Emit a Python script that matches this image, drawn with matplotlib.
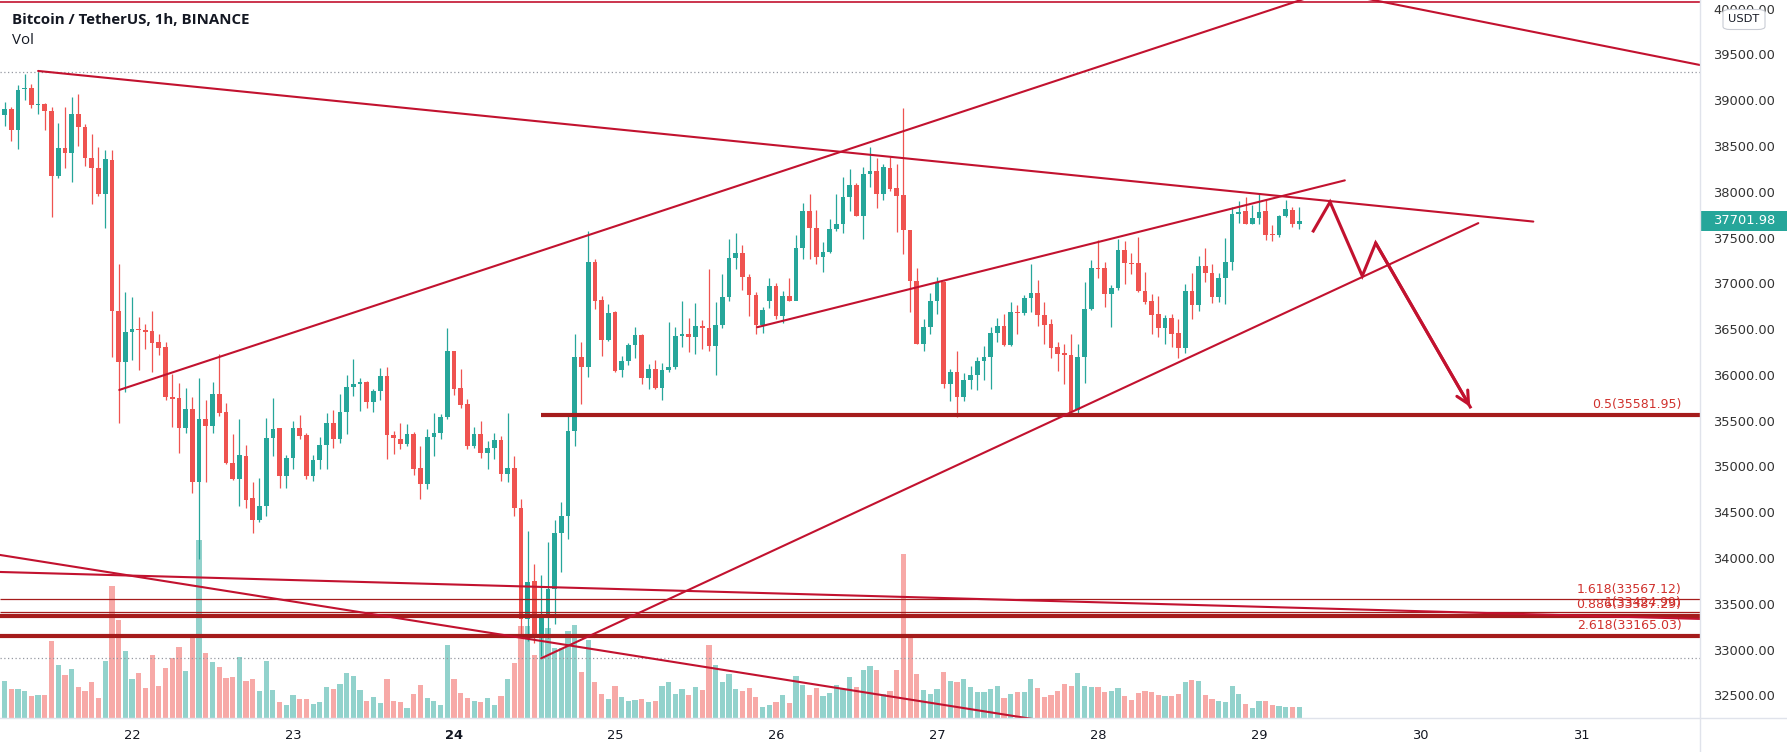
import matplotlib.pyplot as plt
import matplotlib.transforms as mtransforms
from matplotlib.patches import Rectangle, FancyBboxPatch
import numpy as np

# 1h candles, hour 0 = 22 Jan 00:00, first candle 21 Jan 04:00
first_hour = -20

opens = [
    38480, 38860, 38917, 38690, 39135, 39155, 38965, 38975, 38900, 38190, 38496, 38442, 38867, 38723, 38390, 38280, 37990, 38363, 36714, 36156,
    36480, 36516, 36510, 36498, 36372, 36318, 35778, 35760, 35436, 35641, 34849, 35530, 35455, 35807, 35616, 35049, 34883, 35135, 34667, 34437, 34581, 35326, 35434, 34912,
    35110, 35434, 35362, 34912, 35092, 35254, 35495, 35315, 35614, 35884, 35913, 35938, 35722, 35841, 36000, 35362, 35315, 35265, 35373, 35002, 34822, 35337, 35387, 35553,
    36274, 35877, 35697, 35236, 35373, 35164, 35218, 35308, 34930, 35002, 34559, 33345, 33767, 33165, 33399, 33680, 34292, 34473, 35409, 36216, 36101, 37245, 36838, 36395,
    36705, 36071, 36165, 36345, 36453, 35985, 36082, 35877, 36071, 36100, 36442, 36467, 36431, 36550, 36532, 36334, 36561, 36864, 37296, 37343, 37090, 36885, 36561, 36820,
    36983, 36658, 36874, 36828, 37404, 37811, 37620, 37307, 37361, 37613, 37667, 37955, 38089, 37757, 38208, 38244, 37991, 38280, 38053, 37981, 37595, 37037, 36353, 36540,
    36828, 37030, 35913, 36047, 35776, 35964, 36010, 36173, 36209, 36479, 36551, 36345, 36705, 36694, 36856, 36910, 36676, 36568, 36316, 36251, 36237, 35632, 36215, 36741,
    37188, 37181, 36900, 36964, 37379, 37242, 37235, 36936, 36820, 36684, 36525, 36640, 36478, 36309, 36936, 36784, 37209, 37127, 36864, 37073, 37245, 37775, 37811, 37667,
    37728, 37811, 37559, 37541, 37750, 37822, 37667,
]
highs = [
    38900, 39000, 38946, 39180, 39300, 39190, 39325, 38990, 38946, 38766, 38946, 39047, 39080, 38760, 38650, 38507, 38478, 38478, 37225, 36923,
    36865, 36650, 36577, 36714, 36462, 36372, 36023, 35929, 35868, 35778, 35987, 35742, 35940, 36246, 35706, 35373, 35531, 35254, 34847, 34894, 35542, 35769, 35440, 35146,
    35517, 35578, 35387, 35146, 35337, 35603, 35632, 35805, 36010, 36191, 35985, 35950, 35866, 36093, 36108, 35409, 35495, 35481, 35398, 35243, 35423, 35603, 35589, 36533,
    36280, 36083, 35758, 35445, 35517, 35290, 35387, 35351, 35604, 35135, 34660, 34307, 33947, 33832, 34192, 34437, 34631, 35578, 36468, 36371, 37584, 37281, 36874, 36792,
    36710, 36226, 36370, 36540, 36460, 36136, 36179, 36143, 36597, 36540, 36828, 36633, 36802, 36611, 37173, 36813, 37116, 37505, 37570, 37440, 37116, 36921, 36756, 37080,
    37019, 36936, 37073, 37548, 37894, 37991, 37822, 37469, 37714, 37991, 38182, 38269, 38110, 38290, 38507, 38388, 38316, 38399, 38316, 38928, 37600, 37188, 36623, 36911,
    37091, 37040, 36083, 36273, 36036, 36118, 36209, 36335, 36540, 36641, 36684, 36813, 36784, 36885, 37224, 37055, 36813, 36622, 36381, 36359, 36467, 36359, 37029, 37271,
    37487, 37245, 37001, 37498, 37476, 37353, 37523, 37137, 36900, 36874, 36676, 36684, 36622, 37008, 37127, 37317, 37397, 37224, 37127, 37512, 37847, 37919, 37955, 37872,
    38002, 37930, 37656, 37764, 37930, 37847, 37847,
]
lows = [
    38420, 38730, 38570, 38480, 39020, 38930, 38870, 38690, 37740, 38170, 38280, 38125, 38520, 38300, 37880, 37967, 37620, 36210, 35490, 35832,
    36180, 36073, 36300, 36048, 36239, 35742, 35447, 35159, 35382, 34727, 34010, 34850, 35382, 35562, 35040, 34869, 34588, 34559, 34292, 34408, 34473, 35128, 34786, 34786,
    34984, 35315, 34883, 34858, 34991, 34991, 35218, 35272, 35373, 35783, 35625, 35650, 35614, 35747, 35099, 35157, 35207, 35243, 34919, 34660, 34768, 35135, 35315, 35531,
    35795, 35650, 35207, 35218, 35110, 34991, 35099, 34858, 34847, 34473, 33147, 33111, 33093, 32950, 33147, 33291, 33868, 34228, 35243, 35697, 35992, 36741, 36226, 36390,
    36046, 35992, 36129, 36201, 35913, 35866, 35866, 35747, 36046, 36082, 36324, 36262, 36244, 36298, 36280, 36010, 36532, 36828, 37173, 36947, 36658, 36460, 36478, 36748,
    36622, 36586, 36821, 36830, 37282, 37282, 37224, 37145, 37343, 37585, 37570, 37801, 37750, 37498, 38064, 37837, 37930, 38028, 37577, 37332, 36706, 36350, 36281, 36468,
    36684, 35877, 35733, 35553, 35733, 35866, 35856, 35957, 35866, 36371, 36335, 36334, 36460, 36676, 36705, 36550, 36359, 36201, 36057, 35920, 35589, 35580, 35927, 36730,
    37080, 36756, 36539, 36946, 37008, 37116, 36921, 36792, 36460, 36431, 36352, 36316, 36201, 36252, 36622, 36719, 37029, 36803, 36813, 36792, 37163, 37678, 37660, 37660,
    37667, 37487, 37476, 37523, 37745, 37631, 37613,
]
closes = [
    38856, 38920, 38690, 39130, 39155, 38965, 38975, 38900, 38190, 38496, 38442, 38867, 38723, 38390, 38280, 37990, 38370, 36714, 36156, 36480,
    36516, 36505, 36490, 36361, 36311, 35771, 35750, 35436, 35641, 34849, 35533, 35455, 35807, 35605, 35050, 34883, 35146, 34653, 34437, 34581, 35326, 35423, 34912, 35110,
    35434, 35351, 34912, 35092, 35254, 35495, 35315, 35614, 35884, 35913, 35935, 35722, 35841, 36000, 35362, 35326, 35265, 35373, 34991, 34822, 35337, 35387, 35553, 36273,
    35867, 35686, 35236, 35373, 35164, 35218, 35308, 34930, 35002, 34559, 33345, 33752, 33165, 33399, 33680, 34292, 34473, 35409, 36216, 36101, 37245, 36828, 36395, 36694,
    36064, 36165, 36345, 36453, 35985, 36082, 35877, 36071, 36107, 36442, 36467, 36431, 36550, 36525, 36334, 36561, 36864, 37296, 37343, 37090, 36885, 36561, 36720, 36983,
    36658, 36874, 36828, 37404, 37811, 37620, 37307, 37361, 37613, 37667, 37955, 38089, 37757, 38208, 38244, 37991, 38290, 38045, 37973, 37595, 37037, 36353, 36540, 36828,
    37030, 35913, 36047, 35776, 35964, 36010, 36173, 36209, 36479, 36551, 36345, 36705, 36694, 36856, 36910, 36669, 36561, 36309, 36244, 36237, 35614, 36215, 36741, 37181,
    37173, 36900, 36964, 37379, 37235, 37224, 36928, 36813, 36676, 36525, 36640, 36467, 36309, 36936, 36784, 37209, 37127, 36864, 37073, 37245, 37775, 37800, 37667, 37728,
    37800, 37548, 37548, 37750, 37829, 37667, 37701.98,
]
volume = [
    30, 37, 29, 29, 27, 22, 23, 23, 77, 53, 43, 49, 31, 27, 36, 20, 57, 132, 98, 67,
    39, 45, 30, 63, 32, 50, 60, 71, 47, 83, 178, 65, 56, 51, 40, 41, 61, 37, 39, 27, 57, 28, 16, 13,
    23, 19, 19, 14, 16, 31, 29, 34, 45, 42, 28, 17, 21, 15, 39, 17, 16, 10, 24, 33, 20, 17, 13, 73,
    39, 25, 20, 17, 16, 20, 13, 22, 39, 55, 92, 92, 63, 82, 90, 70, 70, 87, 93, 46, 78, 36, 24, 19,
    32, 21, 17, 18, 19, 16, 17, 32, 36, 24, 29, 23, 31, 28, 73, 53, 36, 44, 29, 27, 30, 21, 11, 13,
    16, 23, 15, 42, 33, 23, 30, 22, 25, 33, 29, 41, 31, 48, 52, 48, 24, 27, 48, 164, 81, 44, 28, 24,
    29, 46, 37, 36, 39, 31, 26, 26, 29, 32, 20, 24, 26, 26, 39, 30, 21, 23, 27, 34, 32, 45, 32, 31,
    31, 26, 27, 30, 22, 18, 25, 27, 26, 23, 22, 22, 24, 36, 38, 37, 23, 19, 17, 16, 32, 24, 14, 10,
    17, 17, 13, 12, 11, 11, 11,
]

day_hours = [0, 24, 48, 72, 96, 120, 144, 168, 192, 216]
day_labels = ['22', '23', '24', '25', '26', '27', '28', '29', '30', '31']
price_ticks = list(range(32500, 40001, 500))
last_price = 37701.98

fib_names = ['0.5', '1.618', '1', '0.886', '2.618']
fib_prices = [35581.95, 33567.12, 33424.99, 33387.29, 33165.03]

# drawings, (hour, price)
trend_lines = [
    [(-14.0, 39336), (208.9, 37691)],
    [(-1.9, 35852), (178.0, 40202)],
    [(180.0, 40184), (240.0, 39310)],
    [(93.2, 36537), (180.8, 38141)],
    [(61.0, 32921), (200.7, 37674)],
    [(-19.7, 33864), (233.8, 33351)],
    [(-19.7, 34050), (140.0, 32191)],
]
arrow_path = [(176.1, 37588), (178.6, 37905), (183.4, 37097), (185.4, 37457), (199.5, 35666)]
high_mark = 39330
low_mark = 32919
top_line = 40089

UP, DOWN = '#26A69A', '#EF5350'
UP_VOL, DOWN_VOL = '#92D2CC', '#F7A9A7'
DRAW = '#C2122F'
LEVEL = '#A51C1C'

W, H = 1787, 752
fig = plt.figure(figsize=(W / 100, H / 100), dpi=100)
fig.patch.set_facecolor('white')
pane = [0, 34 / H, 1700 / W, 718 / H]
ax_vol = fig.add_axes(pane)
ax = fig.add_axes(pane)

hours = np.arange(first_hour, first_hour + len(closes))
o = np.array(opens, float)
c = np.array(closes, float)
hi = np.array(highs, float)
lo = np.array(lows, float)
up = c >= o

xmin, xmax = -19.68, 233.75
ymin, ymax = 32269, 40111
for a in (ax, ax_vol):
    a.set_xlim(xmin, xmax)
    for s in a.spines.values():
        s.set_visible(False)
ax.set_ylim(ymin, ymax)
ax.set_facecolor('none')

# volume overlay
ax_vol.bar(hours, volume, width=0.78, color=np.where(up, UP_VOL, DOWN_VOL), linewidth=0)
ax_vol.set_ylim(0, max(volume) / 0.248)
ax_vol.set_yticks([])
ax_vol.set_xticks([])

# candles
cols = np.where(up, UP, DOWN)
ax.vlines(hours, lo, hi, colors=cols, linewidth=0.9, zorder=2)
body = np.maximum(np.abs(c - o), 12)
ax.bar(hours, body, bottom=np.minimum(o, c), width=0.7, color=cols, linewidth=0, zorder=2)

# dotted high / low marks and top line
ax.axhline(high_mark, color='#9598A1', lw=0.9, ls=(0, (1, 2)), zorder=1)
ax.axhline(low_mark, color='#9598A1', lw=0.9, ls=(0, (1, 2)), zorder=1)
ax.axhline(top_line, color=DRAW, lw=1.2, zorder=3)

# fib levels
for name, p in zip(fib_names, fib_prices):
    thick = name in ('0.5', '0.886', '2.618')
    start = 61.0 if name == '0.5' else xmin
    ax.plot([start, xmax], [p, p], color=LEVEL, lw=3.0 if thick else 0.9, zorder=3, solid_capstyle='butt')
    ax.annotate(f'{name}({p:.2f})', xy=(231.0, p), xytext=(0, 3 if thick else 2), textcoords='offset points',
                ha='right', va='bottom', fontsize=9, color='#D0312D', zorder=4)

for (x0, y0), (x1, y1) in trend_lines:
    ax.plot([x0, x1], [y0, y1], color=DRAW, lw=1.5, zorder=3, solid_capstyle='round')

ax.plot([p[0] for p in arrow_path], [p[1] for p in arrow_path], color=DRAW, lw=2.2, zorder=3,
        solid_joinstyle='miter')
ax.annotate('', xy=arrow_path[-1], xytext=arrow_path[-2],
            arrowprops=dict(arrowstyle='->,head_length=0.9,head_width=0.45', color=DRAW, lw=2.2,
                            shrinkA=0, shrinkB=0), zorder=3)

# time axis
ax.set_xticks(day_hours)
ax.set_xticklabels(day_labels)
ax.tick_params(axis='x', length=0, pad=8, labelsize=9.4, labelcolor='#131722')
ax.get_xticklabels()[2].set_fontweight('bold')
ax.set_yticks([])

# price axis
blend = mtransforms.blended_transform_factory(fig.transFigure, ax.transData)
for p in price_ticks:
    ax.text(1713 / W, p, f'{p:.2f}', transform=blend, ha='left', va='center', fontsize=9.4,
            color='#333333', clip_on=False)
px = (ymax - ymin) / 718
ax.add_patch(Rectangle((1700 / W, last_price - 10 * px), 87 / W, 20 * px, transform=blend,
                       facecolor=UP, edgecolor='none', clip_on=False, zorder=5))
ax.text(1713 / W, last_price, f'{last_price:.2f}', transform=blend, ha='left', va='center',
        fontsize=9.4, color='white', clip_on=False, zorder=6)

fig.add_artist(plt.Line2D([1700 / W, 1700 / W], [0, 1], color='#E0E3EB', lw=1))
fig.add_artist(plt.Line2D([0, 1], [34 / H, 34 / H], color='#E0E3EB', lw=1))
fig.add_artist(FancyBboxPatch((1723 / W, 1 - 29.5 / H), 42 / W, 20 / H,
                              boxstyle='round,pad=0,rounding_size=0.004',
                              facecolor='white', edgecolor='#C9CCD4', lw=0.8, zorder=7))
fig.text(1744 / W, 1 - 19.5 / H, 'USDT', ha='center', va='center', fontsize=8.2, color='#131722', zorder=8)

fig.text(12 / W, 1 - 20 / H, 'Bitcoin / TetherUS, 1h, BINANCE', ha='left', va='center',
         fontsize=10.8, fontweight='bold', family='Open Sans', color='#131722')
fig.text(12 / W, 1 - 40 / H, 'Vol', ha='left', va='center', fontsize=10.8, family='Open Sans', color='#131722')

fig.savefig('out.png', dpi=100, facecolor='white')
